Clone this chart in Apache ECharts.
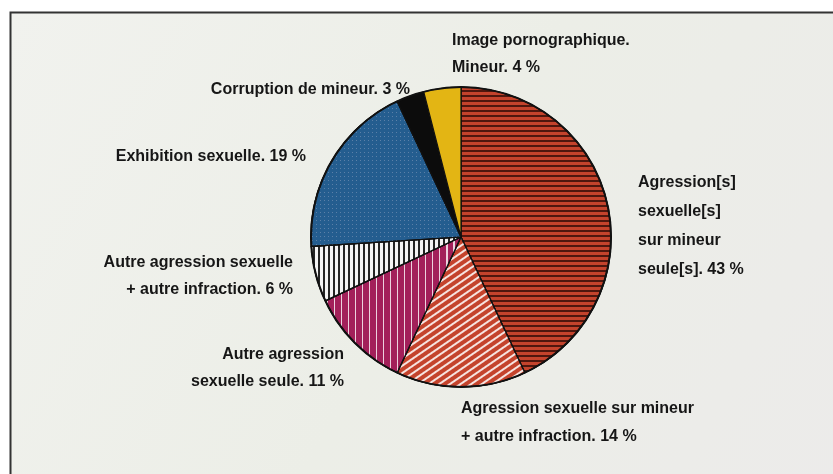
<!DOCTYPE html>
<html>
<head>
<meta charset="utf-8">
<script src="https://cdn.jsdelivr.net/npm/echarts@6/dist/echarts.min.js"></script>
<style>
  html, body { margin: 0; padding: 0; background: #fff; }
  #main { width: 833px; height: 474px; }
</style>
</head>
<body>
<div id="main"></div>
<script>
// slices, clockwise from 12 o'clock
const categories = [
    'Agression[s]\nsexuelle[s]\nsur mineur\nseule[s]. 43 %',
    'Agression sexuelle sur mineur\n+ autre infraction. 14 %',
    'Autre agression\nsexuelle seule. 11 %',
    'Autre agression sexuelle\n+ autre infraction. 6 %',
    'Exhibition sexuelle. 19 %',
    'Corruption de mineur. 3 %',
    'Image pornographique.\nMineur. 4 %'
];
const values = [43, 14, 11, 6, 19, 3, 4];

const colors = ['#c4432c', '#c4432c', '#a3205a', '#f4f4f4', '#245d8f', '#0c0c0c', '#e3b514'];
const decals = [
    {color: 'rgba(40,8,4,0.75)', dashArrayX: [1, 0], dashArrayY: [2, 3], rotation: 0},
    {color: 'rgba(255,255,255,0.85)', dashArrayX: [1, 0], dashArrayY: [2, 4], rotation: -0.6},
    {color: 'rgba(255,255,255,0.8)', dashArrayX: [1, 0], dashArrayY: [2, 5], rotation: Math.PI / 2},
    {color: 'rgba(0,0,0,0.85)', dashArrayX: [1, 0], dashArrayY: [2, 3], rotation: Math.PI / 2},
    {color: 'rgba(160,170,200,0.45)', dashArrayX: [[1, 3]], dashArrayY: [1, 3], rotation: 0},
    null,
    null
];

// label block placement: [x, top y, align, line height]
const labelPos = [
    [638, 168, 'left', 29],
    [461, 395, 'left', 28],
    [344, 341, 'right', 27],
    [293, 249, 'right', 27],
    [306, 145, 'right', 24],
    [410, 78, 'right', 24],
    [452, 27, 'left', 27]
];

const myChart = echarts.init(document.getElementById('main'));

const data = values.map((v, i) => {
    const item = {
        name: categories[i],
        value: v,
        itemStyle: {color: colors[i]},
        label: {lineHeight: labelPos[i][3]}
    };
    if (decals[i]) {
        item.itemStyle.decal = Object.assign({symbol: 'rect', symbolSize: 1}, decals[i]);
    }
    return item;
});

myChart.setOption({
    animation: false,
    graphic: [
        {
            type: 'rect',
            shape: {x: 10.5, y: 12.5, width: 840, height: 480},
            style: {
                fill: new echarts.graphic.LinearGradient(0, 0, 1, 1, [
                    {offset: 0, color: '#f1f2ee'},
                    {offset: 0.5, color: '#eceee7'},
                    {offset: 1, color: '#ecebea'}
                ]),
                stroke: '#333',
                lineWidth: 2
            },
            z: -10
        }
    ],
    series: [
        {
            type: 'pie',
            center: [461, 237],
            radius: [0, 150],
            startAngle: 90,
            clockwise: true,
            avoidLabelOverlap: false,
            itemStyle: {
                borderColor: '#111',
                borderWidth: 1.2
            },
            label: {
                show: true,
                position: 'outside',
                color: '#161616',
                fontFamily: 'Liberation Sans Narrow, Arial Narrow, Liberation Sans, sans-serif',
                fontWeight: 'bold',
                fontSize: 16
            },
            labelLine: {show: false},
            labelLayout: (params) => {
                const p = labelPos[params.dataIndex];
                return {x: p[0], y: p[1], align: p[2], verticalAlign: 'top'};
            },
            data: data
        },
        {
            // outer rim of the pie
            type: 'pie',
            center: [461, 237],
            radius: [149, 151],
            silent: true,
            label: {show: false},
            labelLine: {show: false},
            itemStyle: {color: '#111'},
            data: [{value: 1}]
        }
    ]
});
</script>
</body>
</html>
